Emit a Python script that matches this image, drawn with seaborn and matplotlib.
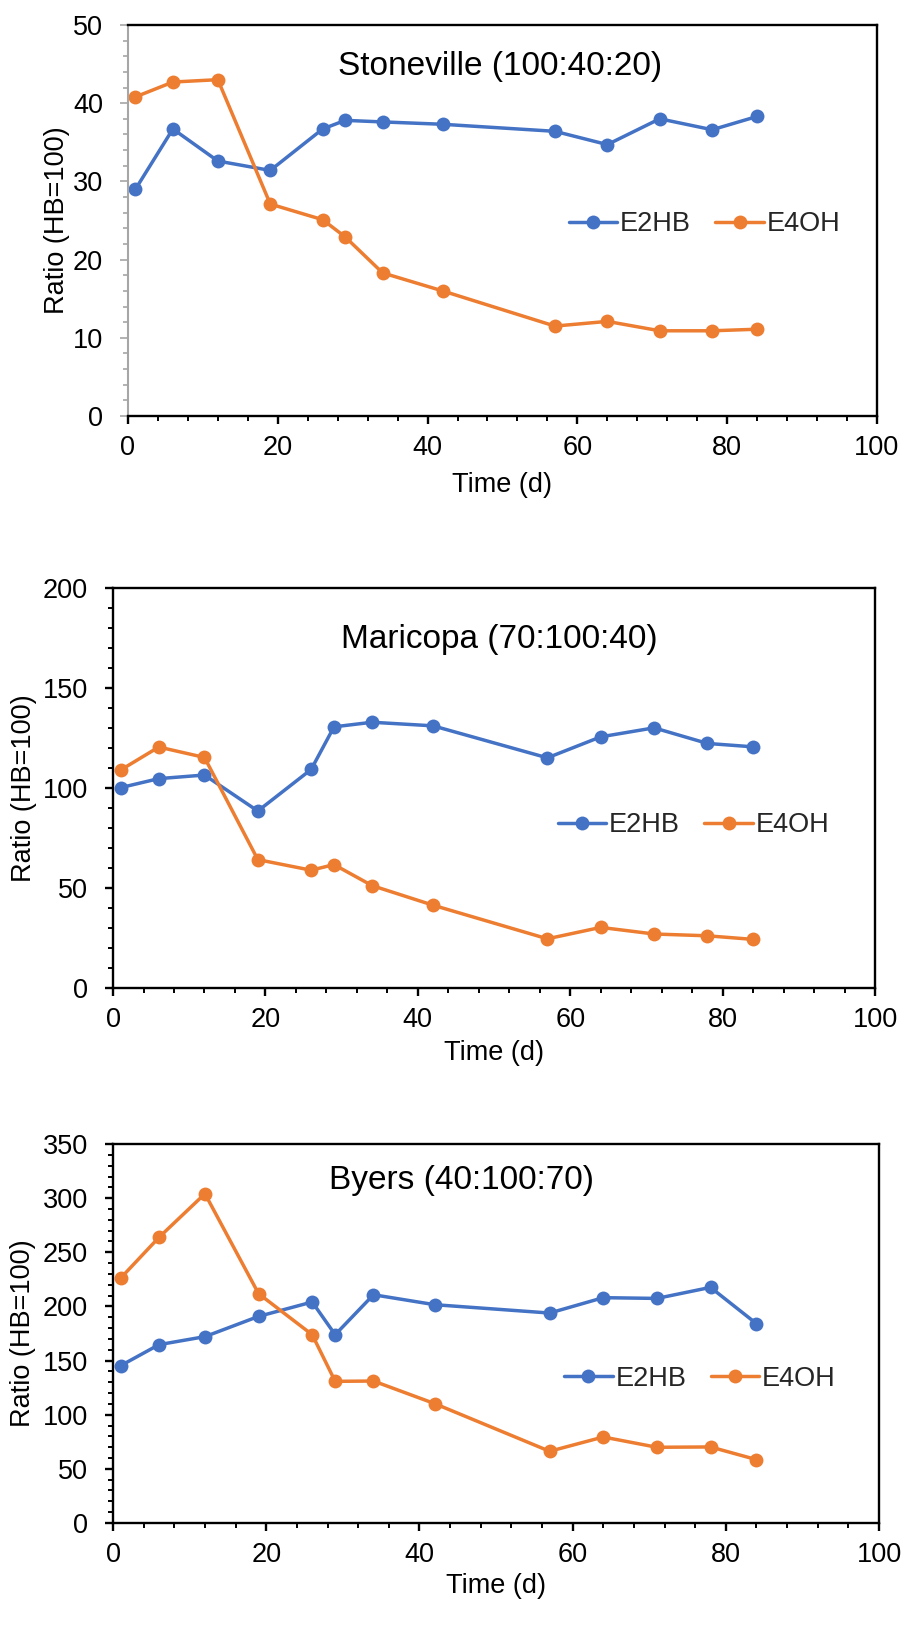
import numpy as np
import pandas as pd
import matplotlib
matplotlib.use("Agg")
import matplotlib.pyplot as plt
import seaborn as sns
from matplotlib.ticker import MultipleLocator

# sampling days (same for all three cultivars)
days = [1, 6, 12, 19, 26, 29, 34, 42, 57, 64, 71, 78, 84]

# Stoneville (100:40:20)
stoneville_e2hb = [29.0, 36.7, 32.6, 31.4, 36.7, 37.8, 37.6, 37.3, 36.4, 34.7, 38.0, 36.6, 38.3]
stoneville_e4oh = [40.8, 42.7, 43.0, 27.1, 25.1, 22.9, 18.3, 16.0, 11.5, 12.1, 10.9, 10.9, 11.1]

# Maricopa (70:100:40)
maricopa_e2hb = [100.2, 104.7, 106.5, 88.5, 109.3, 130.6, 132.9, 131.1, 115.1, 125.6, 130.1, 122.3, 120.6]
maricopa_e4oh = [109.0, 120.5, 115.3, 64.2, 58.9, 61.7, 51.2, 41.4, 24.6, 30.3, 27.0, 26.1, 24.3]

# Byers (40:100:70)
byers_e2hb = [145.3, 164.7, 172.1, 190.8, 204.1, 173.9, 210.8, 201.6, 193.9, 208.1, 207.4, 217.6, 184.1]
byers_e4oh = [226.2, 263.8, 304.1, 211.8, 173.9, 130.8, 131.1, 110.2, 66.2, 79.4, 69.9, 70.2, 58.5]

titles = ["Stoneville (100:40:20)", "Maricopa (70:100:40)", "Byers (40:100:70)"]
ymax = [50, 200, 350]
ymajor = [10, 50, 50]
yminor = [2, 10, 10]

sns.set_theme(style="ticks")
plt.rcParams["font.family"] = ["Liberation Sans", "DejaVu Sans"]

palette = {"E2HB": "#4472C4", "E4OH": "#ED7D31"}

fig = plt.figure(figsize=(9.05, 16.29), dpi=100)

rects = [
    [0.1414, 0.7446, 0.8276, 0.2401],
    [0.1249, 0.3935, 0.8420, 0.2455],
    [0.1249, 0.0651, 0.8464, 0.2326],
]
title_pos = [(0.497, 0.893), (0.507, 0.872), (0.455, 0.905)]
legend_pos = [(0.770, 0.491), (0.762, 0.4075), (0.766, 0.38)]
ylabel_x = [-0.078, -0.100, -0.100]
xlabel_y = [-0.143, -0.130, -0.132]

data_sets = [
    (stoneville_e2hb, stoneville_e4oh),
    (maricopa_e2hb, maricopa_e4oh),
    (byers_e2hb, byers_e4oh),
]

for i, (e2hb, e4oh) in enumerate(data_sets):
    ax = fig.add_axes(rects[i])
    df = pd.DataFrame({
        "Time": days * 2,
        "Ratio": e2hb + e4oh,
        "Series": ["E2HB"] * len(days) + ["E4OH"] * len(days),
    })
    sns.lineplot(data=df, x="Time", y="Ratio", hue="Series", palette=palette,
                 marker="o", markersize=10, markeredgewidth=0, linewidth=2.5,
                 ax=ax, legend=True)

    ax.set_xlim(0, 100)
    ax.set_ylim(0, ymax[i])
    ax.xaxis.set_major_locator(MultipleLocator(20))
    ax.xaxis.set_minor_locator(MultipleLocator(4))
    ax.yaxis.set_major_locator(MultipleLocator(ymajor[i]))
    ax.yaxis.set_minor_locator(MultipleLocator(yminor[i]))

    for sp in ax.spines.values():
        sp.set_color("black")
        sp.set_linewidth(1.7)
    ax.tick_params(which="major", direction="out", length=6, width=1.7,
                   color="black", labelsize=19.5, labelcolor="black")
    ax.tick_params(axis="x", which="major", pad=8)
    ax.tick_params(axis="y", which="major", pad=12)
    ax.tick_params(which="minor", direction="out", length=3.5, width=1.4, color="black")

    if i == 0:
        # first panel's vertical axis is drawn in grey
        ax.spines["left"].set_color("#A6A6A6")
        ax.spines["left"].set_linewidth(1.5)
        ax.tick_params(axis="y", which="both", color="#A6A6A6", width=1.2)

    ax.set_xlabel("Time (d)", fontsize=19.5, color="black")
    ax.set_ylabel("Ratio (HB=100)", fontsize=19.5, color="black")
    ax.yaxis.set_label_coords(ylabel_x[i], 0.5)
    ax.xaxis.set_label_coords(0.5, xlabel_y[i])

    ax.text(title_pos[i][0], title_pos[i][1], titles[i], transform=ax.transAxes,
            ha="center", va="center", fontsize=24, color="black")

    handles, labels = ax.get_legend_handles_labels()
    ax.legend(handles, labels, loc="center", bbox_to_anchor=legend_pos[i],
              ncol=2, frameon=False, fontsize=19.5, handlelength=1.8,
              handletextpad=0.1, columnspacing=0.9, borderpad=0)

fig.savefig("out.png", dpi=100)
